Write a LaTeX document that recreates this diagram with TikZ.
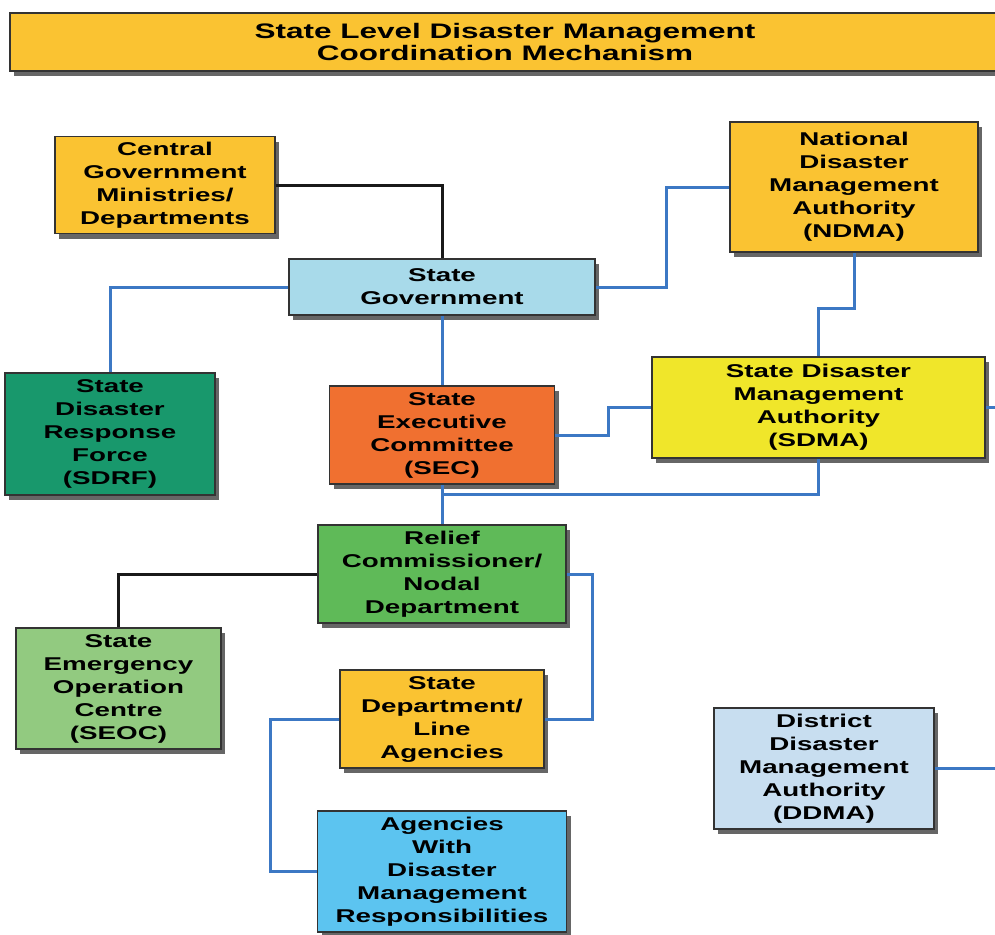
\documentclass[tikz,border=0pt]{standalone}
\usepackage{fontspec}
\newfontfamily\boxfont{Liberation Sans Bold}[FakeStretch=1.5]
\usetikzlibrary{shapes,arrows,positioning,shadows}

\definecolor{titlegold}{RGB}{250,195,50}
\definecolor{stateblue}{RGB}{168,218,234}
\definecolor{sdrfgreen}{RGB}{24,152,108}
\definecolor{secorange}{RGB}{240,112,48}
\definecolor{sdmayellow}{RGB}{240,230,42}
\definecolor{reliefgreen}{RGB}{95,186,88}
\definecolor{seocgreen}{RGB}{146,202,128}
\definecolor{agencyblue}{RGB}{92,196,240}
\definecolor{ddmablue}{RGB}{200,222,240}
\definecolor{linkblue}{RGB}{60,120,196}

\begin{document}
\begin{tikzpicture}[x=1pt, y=-1pt,
    unit/.style={rectangle, draw=black!80, line width=1.5pt, align=center, inner sep=2pt,
        font=\boxfont\fontsize{18.5}{23}\selectfont,
        drop shadow={shadow xshift=4pt, shadow yshift=-5pt, fill=black!60, opacity=1}},
    link/.style={draw=linkblue, line width=3pt},
    blackline/.style={draw=black!90, line width=3pt}]
    \clip (0,0) rectangle (995,934);

    % Title
    \node[unit, fill=titlegold, minimum width=990, minimum height=58,
        font=\boxfont\fontsize{21}{22}\selectfont] (title) at (505,42)
        {State Level Disaster Management\\Coordination Mechanism};

    % Upper level
    \node[unit, fill=titlegold, minimum width=220, minimum height=97] (central) at (165,185)
        {Central\\Government\\Ministries/\\Departments};
    \node[unit, fill=titlegold, minimum width=248, minimum height=130] (ndma) at (854,187)
        {National\\Disaster\\Management\\Authority\\(NDMA)};
    \node[unit, fill=stateblue, minimum width=306, minimum height=56] (stategov) at (442,287)
        {State\\Government};

    % State level
    \node[unit, fill=sdrfgreen, minimum width=210, minimum height=122] (sdrf) at (110,434)
        {State\\Disaster\\Response\\Force\\(SDRF)};
    \node[unit, fill=secorange, minimum width=225, minimum height=98] (sec) at (442,435)
        {State\\Executive\\Committee\\(SEC)};
    \node[unit, fill=sdmayellow, minimum width=333, minimum height=101] (sdma) at (818.5,407.5)
        {State Disaster\\Management\\Authority\\(SDMA)};

    % Lower level
    \node[unit, fill=reliefgreen, minimum width=248, minimum height=98] (relief) at (442,574)
        {Relief\\Commissioner/\\Nodal\\Department};
    \node[unit, fill=seocgreen, minimum width=205, minimum height=121] (seoc) at (118.5,688.5)
        {State\\Emergency\\Operation\\Centre\\(SEOC)};
    \node[unit, fill=titlegold, minimum width=204, minimum height=98] (statedept) at (442,719)
        {State\\Department/\\Line\\Agencies};
    \node[unit, fill=agencyblue, minimum width=249, minimum height=121] (agencies) at (442,871.5)
        {Agencies\\With\\Disaster\\Management\\Responsibilities};
    \node[unit, fill=ddmablue, minimum width=220, minimum height=121] (ddma) at (824,768.5)
        {District\\Disaster\\Management\\Authority\\(DDMA)};

    % Free ends at the right edge
    \coordinate (sdmaedge) at (995,407.5);
    \coordinate (ddmaedge) at (995,768.5);

    % Connectors
    \draw[blackline] (central.east) -| (stategov.north);
    \draw[link] (stategov.west) -| (sdrf.north);
    \draw[link] (stategov.east) -- ++(71,0) |- (ndma.west);
    \draw[link] (ndma.south) -- ++(0,56) -| (sdma.north);
    \draw[link] (stategov.south) -- (sec.north);
    \draw[link] (sec.east) -- ++(53,0) |- (sdma.west);
    \draw[link] (sec.south) -- (relief.north);
    \draw[link] (sec.south) ++(0,10) -| (sdma.south);
    \draw[blackline] (relief.west) -| (seoc.north);
    \draw[link] (relief.east) -- ++(26,0) |- (statedept.east);
    \draw[link] (statedept.west) -- ++(-69,0) |- (agencies.west);
    \draw[link] (sdma.east) -- (sdmaedge);
    \draw[link] (ddma.east) -- (ddmaedge);
\end{tikzpicture}
\end{document}
